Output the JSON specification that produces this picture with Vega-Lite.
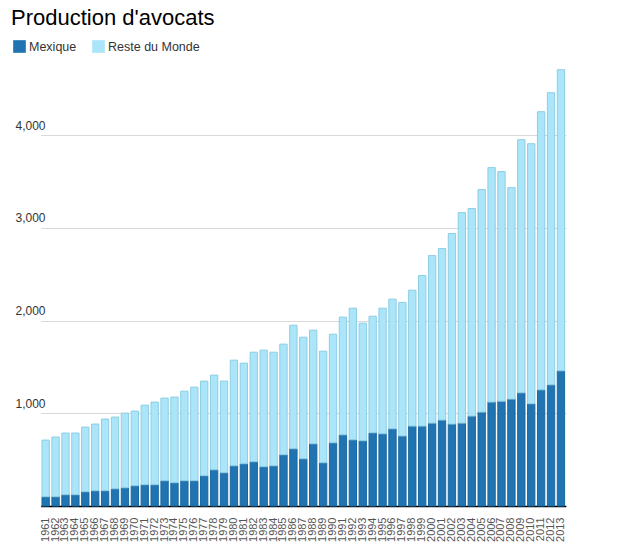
{
  "$schema": "https://vega.github.io/schema/vega-lite/v6.json",
  "autosize": "none",
  "width": 601,
  "height": 445,
  "padding": {"left": 12, "top": 61, "right": 14, "bottom": 53},
  "background": "white",
  "title": {
    "text": "Production d'avocats",
    "anchor": "start",
    "frame": "group",
    "fontSize": 22,
    "fontWeight": "normal",
    "font": "Liberation Sans",
    "color": "#000000",
    "baseline": "alphabetic",
    "offset": -7,
    "dx": -1
  },
  "config": {
    "font": "Liberation Sans",
    "view": {"stroke": null}
  },
  "data": {
    "values": [
      {"year": "1961", "Mexique": 100, "Reste du Monde": 611},
      {"year": "1962", "Mexique": 100, "Reste du Monde": 644},
      {"year": "1963", "Mexique": 122, "Reste du Monde": 665},
      {"year": "1964", "Mexique": 122, "Reste du Monde": 665},
      {"year": "1965", "Mexique": 154, "Reste du Monde": 697},
      {"year": "1966", "Mexique": 165, "Reste du Monde": 719},
      {"year": "1967", "Mexique": 165, "Reste du Monde": 773},
      {"year": "1968", "Mexique": 186, "Reste du Monde": 773},
      {"year": "1969", "Mexique": 197, "Reste du Monde": 805},
      {"year": "1970", "Mexique": 219, "Reste du Monde": 805},
      {"year": "1971", "Mexique": 230, "Reste du Monde": 858},
      {"year": "1972", "Mexique": 230, "Reste du Monde": 891},
      {"year": "1973", "Mexique": 273, "Reste du Monde": 891},
      {"year": "1974", "Mexique": 251, "Reste du Monde": 924},
      {"year": "1975", "Mexique": 273, "Reste du Monde": 966},
      {"year": "1976", "Mexique": 273, "Reste du Monde": 1009},
      {"year": "1977", "Mexique": 327, "Reste du Monde": 1020},
      {"year": "1978", "Mexique": 391, "Reste du Monde": 1021},
      {"year": "1979", "Mexique": 359, "Reste du Monde": 988},
      {"year": "1980", "Mexique": 434, "Reste du Monde": 1139},
      {"year": "1981", "Mexique": 456, "Reste du Monde": 1085},
      {"year": "1982", "Mexique": 478, "Reste du Monde": 1181},
      {"year": "1983", "Mexique": 424, "Reste du Monde": 1257},
      {"year": "1984", "Mexique": 434, "Reste du Monde": 1225},
      {"year": "1985", "Mexique": 553, "Reste du Monde": 1193},
      {"year": "1986", "Mexique": 618, "Reste du Monde": 1332},
      {"year": "1987", "Mexique": 510, "Reste du Monde": 1311},
      {"year": "1988", "Mexique": 671, "Reste du Monde": 1226},
      {"year": "1989", "Mexique": 467, "Reste du Monde": 1203},
      {"year": "1990", "Mexique": 682, "Reste du Monde": 1171},
      {"year": "1991", "Mexique": 768, "Reste du Monde": 1269},
      {"year": "1992", "Mexique": 714, "Reste du Monde": 1420},
      {"year": "1993", "Mexique": 704, "Reste du Monde": 1268},
      {"year": "1994", "Mexique": 790, "Reste du Monde": 1257},
      {"year": "1995", "Mexique": 779, "Reste du Monde": 1355},
      {"year": "1996", "Mexique": 833, "Reste du Monde": 1398},
      {"year": "1997", "Mexique": 756, "Reste du Monde": 1440},
      {"year": "1998", "Mexique": 862, "Reste du Monde": 1466},
      {"year": "1999", "Mexique": 862, "Reste du Monde": 1624},
      {"year": "2000", "Mexique": 894, "Reste du Monde": 1807},
      {"year": "2001", "Mexique": 927, "Reste du Monde": 1850},
      {"year": "2002", "Mexique": 884, "Reste du Monde": 2055},
      {"year": "2003", "Mexique": 894, "Reste du Monde": 2271},
      {"year": "2004", "Mexique": 970, "Reste du Monde": 2238},
      {"year": "2005", "Mexique": 1013, "Reste du Monde": 2400},
      {"year": "2006", "Mexique": 1121, "Reste du Monde": 2529},
      {"year": "2007", "Mexique": 1131, "Reste du Monde": 2476},
      {"year": "2008", "Mexique": 1153, "Reste du Monde": 2281},
      {"year": "2009", "Mexique": 1221, "Reste du Monde": 2730},
      {"year": "2010", "Mexique": 1103, "Reste du Monde": 2805},
      {"year": "2011", "Mexique": 1253, "Reste du Monde": 3000},
      {"year": "2012", "Mexique": 1307, "Reste du Monde": 3151},
      {"year": "2013", "Mexique": 1458, "Reste du Monde": 3248}
    ]
  },
  "transform": [
    {"fold": ["Mexique", "Reste du Monde"], "as": ["region", "production"]}
  ],
  "mark": {"type": "bar", "strokeWidth": 1},
  "encoding": {
    "x": {
      "field": "year",
      "type": "ordinal",
      "scale": {"range": [28.7, 553.9], "paddingInner": 0.26, "paddingOuter": 0.13},
      "axis": {
        "title": null,
        "domain": false,
        "ticks": false,
        "labelAngle": 270,
        "labelFontSize": 11,
        "labelColor": "#555555",
        "labelPadding": 11
      }
    },
    "y": {
      "field": "production",
      "type": "quantitative",
      "stack": "zero",
      "scale": {"domain": [0, 4800], "nice": false},
      "axis": {
        "title": null,
        "domain": false,
        "ticks": false,
        "values": [0, 1000, 2000, 3000, 4000],
        "format": ",d",
        "labelExpr": "datum.value === 0 ? '' : datum.label",
        "labelAlign": "left",
        "labelBaseline": "alphabetic",
        "labelPadding": -3,
        "labelOffset": -6,
        "labelFontSize": 12,
        "labelColor": "#333333",
        "gridColor": {"condition": {"test": "datum.value === 0", "value": "#000000"}, "value": "#d9d9d9"},
        "gridWidth": {"condition": {"test": "datum.value === 0", "value": 1.5}, "value": 1}
      }
    },
    "color": {
      "field": "region",
      "type": "nominal",
      "scale": {"domain": ["Mexique", "Reste du Monde"], "range": ["#1f74b1", "#abe5f9"]},
      "legend": {
        "title": null,
        "orient": "none",
        "legendX": 1,
        "legendY": -21,
        "direction": "horizontal",
        "symbolType": "square",
        "symbolSize": 160,
        "symbolStrokeWidth": 0,
        "labelFontSize": 12.5,
        "labelColor": "#333333",
        "labelOffset": 3,
        "columnPadding": 15
      }
    },
    "stroke": {
      "field": "region",
      "type": "nominal",
      "scale": {"domain": ["Mexique", "Reste du Monde"], "range": ["#1a68a0", "#8ecde3"]},
      "legend": null
    },
    "order": {"field": "region", "sort": "ascending"}
  }
}
